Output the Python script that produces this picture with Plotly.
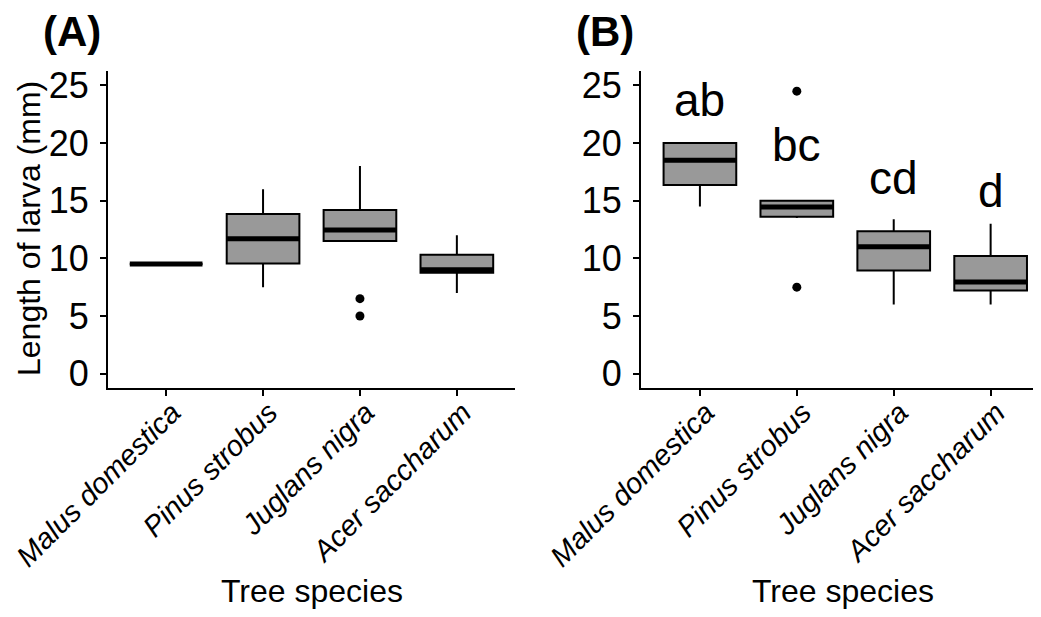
import plotly.graph_objects as go

# ---------------- data ----------------
species = ["Malus domestica", "Pinus strobus", "Juglans nigra", "Acer saccharum"]

# Panel A box statistics (mm)
a_lower = [9.5, 7.5, 11.5, 7.0]
a_q1 = [9.5, 9.55, 11.5, 8.75]
a_median = [9.5, 11.7, 12.45, 9.0]
a_q3 = [9.5, 13.85, 14.2, 10.3]
a_upper = [9.5, 16.0, 18.0, 12.0]
a_out_x = [2, 2]
a_out_y = [6.5, 5.0]

# Panel B box statistics (mm)
b_lower = [14.5, 13.5, 6.0, 6.0]
b_q1 = [16.35, 13.6, 8.95, 7.2]
b_median = [18.5, 14.45, 11.0, 7.95]
b_q3 = [20.0, 15.0, 12.35, 10.2]
b_upper = [20.0, 15.0, 13.4, 13.0]
b_out_x = [1, 1]
b_out_y = [24.5, 7.5]

# Significance letters (panel B)
letters = ["ab", "bc", "cd", "d"]
letter_y = [23.7, 19.8, 17.0, 15.8]

y_ticks = [0, 5, 10, 15, 20, 25]

# ---------------- style ----------------
# page body has an 8px margin; the figure is sized to fit the window inside it
OFF = 8
W, H = 1041 - 2 * OFF, 617 - 2 * OFF
FONT = "Liberation Sans, Arial, sans-serif"
BOX_W = 0.75
FILL = "#999999"


def px(x):
    return (x - OFF) / W


def py(y):
    return 1 - (y - OFF) / H


fig = go.Figure()


def add_panel(xa, ya, lower, q1, med, q3, upper, ox, oy):
    for i in range(len(species)):
        fig.add_trace(go.Box(
            x=[i], q1=[q1[i]], median=[med[i]], q3=[q3[i]],
            lowerfence=[lower[i]], upperfence=[upper[i]],
            width=BOX_W, whiskerwidth=0, fillcolor=FILL,
            line=dict(color="black", width=2), boxpoints=False,
            xaxis=xa, yaxis=ya, showlegend=False, hoverinfo="skip"))
    # thick median lines
    mx, my = [], []
    for i in range(len(species)):
        mx += [i - BOX_W / 2, i + BOX_W / 2, None]
        my += [med[i], med[i], None]
    fig.add_trace(go.Scatter(x=mx, y=my, mode="lines",
                             line=dict(color="black", width=5),
                             xaxis=xa, yaxis=ya, showlegend=False,
                             hoverinfo="skip"))
    fig.add_trace(go.Scatter(x=ox, y=oy, mode="markers",
                             marker=dict(color="black", size=9),
                             xaxis=xa, yaxis=ya, showlegend=False,
                             hoverinfo="skip"))


add_panel("x", "y", a_lower, a_q1, a_median, a_q3, a_upper, a_out_x, a_out_y)
add_panel("x2", "y2", b_lower, b_q1, b_median, b_q3, b_upper, b_out_x, b_out_y)

ydom = [py(388), py(71)]
xdomA = [px(108), px(515)]
xdomB = [px(641), 1.0]
unit = (515 - 108) / 4.2
b_upper_range = -0.608 + (W - (641 - OFF)) / unit

common_x = dict(
    tickmode="array", tickvals=list(range(len(species))), ticktext=species,
    tickangle=-45, tickfont=dict(family=FONT, size=29, color="black", style="italic"),
    showline=True, linecolor="black", linewidth=2, ticks="outside",
    ticklen=6, tickwidth=2, tickcolor="black", showgrid=False, zeroline=False,
    automargin=False, ticklabeloverflow="allow", ticklabelstandoff=-12,
    ticklabelshift=6,
)
common_y = dict(
    range=[-1.25, 26.25], tickmode="array", tickvals=y_ticks,
    tickfont=dict(family=FONT, size=36, color="black"),
    showline=True, linecolor="black", linewidth=2, ticks="outside",
    ticklen=6, tickwidth=2, tickcolor="black", showgrid=False, zeroline=False,
    ticklabelstandoff=4, domain=ydom, automargin=False,
)

fig.update_layout(
    width=W, height=H, autosize=False,
    margin=dict(l=0, r=0, t=0, b=0, pad=0),
    paper_bgcolor="white", plot_bgcolor="white",
    font=dict(family=FONT, color="black"),
    xaxis=dict(common_x, domain=xdomA, range=[-0.6, 3.6], anchor="y"),
    yaxis=dict(common_y, anchor="x"),
    xaxis2=dict(common_x, domain=xdomB, range=[-0.608, b_upper_range], anchor="y2"),
    yaxis2=dict(common_y, anchor="x2"),
)

ann = []
ann.append(dict(text="<b>(A)</b>", x=px(72), y=py(32), xref="paper", yref="paper",
                showarrow=False, xanchor="center", yanchor="middle",
                font=dict(family=FONT, size=42, color="black")))
ann.append(dict(text="<b>(B)</b>", x=px(605), y=py(32), xref="paper", yref="paper",
                showarrow=False, xanchor="center", yanchor="middle",
                font=dict(family=FONT, size=42, color="black")))
ann.append(dict(text="Length of larva (mm)", x=px(29), y=py(229), xref="paper",
                yref="paper", textangle=-90, showarrow=False, xanchor="center",
                yanchor="middle", font=dict(family=FONT, size=32, color="black")))
for cx in [(108 + 515) / 2, 843]:
    ann.append(dict(text="Tree species", x=px(cx), y=0, xref="paper",
                    yref="paper", showarrow=False, xanchor="center", yanchor="bottom",
                    yshift=-1, borderpad=0,
                    font=dict(family=FONT, size=32, color="black")))
for i, (t, ly) in enumerate(zip(letters, letter_y)):
    ann.append(dict(text=t, x=i, y=ly, xref="x2", yref="y2", showarrow=False,
                    xanchor="center", yanchor="middle",
                    font=dict(family=FONT, size=46, color="black")))
fig.update_layout(annotations=ann)

fig.write_html("out.html")
